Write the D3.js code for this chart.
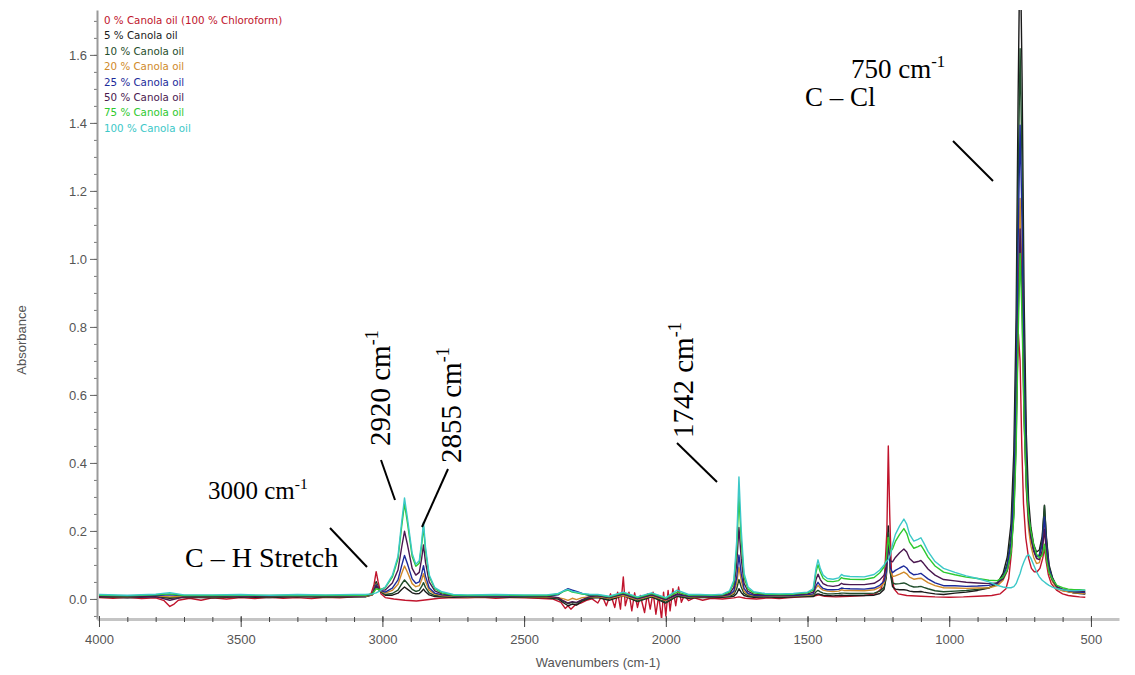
<!DOCTYPE html>
<html>
<head>
<meta charset="utf-8">
<script src="https://cdn.jsdelivr.net/npm/d3@7"></script>
<style>
  body { margin: 0; background: #fff; }
  svg { display: block; }
</style>
</head>
<body>
<svg id="chart" width="1135" height="675"></svg>
<script>
// ---- data ----
var seriesNames = ["0 % Canola oil (100 % Chloroform)", "5 % Canola oil", "10 % Canola oil", "20 % Canola oil",
    "25 % Canola oil", "50 % Canola oil", "75 % Canola oil", "100 % Canola oil"];
var seriesColors = ["#c0142c", "#1a1a1a", "#1f4d2b", "#d08a2a", "#1c2a9a", "#4a1850", "#2ec92e", "#3cc8c8"];

var yTicks = [0.0, 0.2, 0.4, 0.6, 0.8, 1.0, 1.2, 1.4, 1.6];
var xTicks = [4000, 3500, 3000, 2500, 2000, 1500, 1000, 500];

// shared wavenumber grid for the oil mixtures
var wavenumbers = [
    4000, 3900, 3800, 3750, 3700, 3600, 3500, 3400, 3300, 3200, 3100,
    3060, 3035, 3022, 3010, 2990, 2965, 2945, 2932, 2922, 2912, 2895, 2882, 2870, 2862, 2855, 2848, 2835, 2815, 2790, 2750, 2700,
    2600, 2500, 2420, 2380, 2360, 2345, 2330, 2315, 2295, 2270, 2240, 2200, 2150, 2100, 2050, 2000, 1960, 1920, 1880, 1840,
    1800, 1775, 1760, 1750, 1742, 1734, 1724, 1710, 1690, 1650, 1600, 1550, 1500,
    1480, 1470, 1463, 1455, 1445, 1430, 1410, 1390, 1380, 1372, 1350, 1300, 1265,
    1245, 1230, 1222, 1215, 1208, 1200, 1190, 1175, 1160, 1150, 1140, 1125, 1110, 1100, 1090, 1075, 1050, 1020,
    980, 940, 900, 860, 830, 810, 795, 782, 772, 764, 757, 750, 743, 736, 728, 720, 712, 702, 692, 682, 672, 664, 657, 648, 636, 620, 600, 580, 560, 540, 520
];

var oil5 = [
    .006, .003, .007, .002, .005, .003, .006, .004, .007, .005, .006,
    .006, .012, .051, .024, .011, .011, .017, .028, .035, .029, .018, .015, .016, .022, .029, .021, .012, .007, .006, .005, .006,
    .006, .005, .004, .0, -.012, -.02, -.015, -.018, -.006, .002, .004, -.004, .01, -.008, .006, -.012, .008, .002, .005, .004,
    .005, .006, .008, .016, .030, .019, .010, .007, .005, .006, .004, .006, .007,
    .007, .013, .015, .013, .011, .010, .009, .010, .011, .010, .010, .010, .011,
    .016, .028, .065, .215, .077, .036, .029, .027, .027, .026, .023, .021, .021, .022, .020, .018, .015, .013,
    .017, .020, .025, .032, .047, .075, .124, .221, .436, .827, 1.472, 1.961, 1.534, .892, .484, .290, .211, .160, .138, .144, .184, .276, .181, .101, .064, .036, .026, .022, .018, .016, .014
];
var oil10 = [
    .007, .005, .008, .004, .007, .005, .008, .006, .008, .006, .007,
    .007, .013, .047, .024, .013, .016, .026, .044, .056, .046, .028, .022, .025, .036, .048, .034, .018, .010, .008, .007, .006,
    .007, .006, .005, .002, -.008, -.014, -.01, -.012, -.004, .003, .006, .0, .012, -.006, .008, -.01, .01, .004, .006, .006,
    .007, .008, .013, .030, .057, .035, .016, .010, .008, .008, .006, .008, .009,
    .010, .021, .025, .021, .017, .015, .015, .016, .017, .017, .016, .016, .017,
    .023, .034, .067, .195, .079, .047, .044, .045, .047, .044, .039, .035, .036, .037, .034, .030, .024, .021,
    .023, .025, .028, .033, .044, .067, .106, .186, .363, .685, 1.215, 1.618, 1.270, .744, .411, .252, .186, .143, .123, .130, .174, .274, .175, .095, .060, .034, .025, .022, .018, .017, .016
];
var oil20 = [
    .008, .006, .009, .006, .008, .007, .008, .007, .009, .007, .008,
    .008, .013, .044, .025, .017, .025, .043, .075, .097, .079, .045, .036, .039, .055, .074, .051, .026, .014, .010, .008, .007,
    .008, .007, .006, .004, .0, -.004, .002, -.002, .004, .006, .007, .002, .01, -.002, .009, -.004, .012, .006, .007, .007,
    .008, .011, .018, .046, .093, .055, .023, .013, .010, .009, .008, .009, .011,
    .013, .032, .040, .032, .026, .023, .022, .023, .027, .025, .025, .024, .027,
    .034, .046, .074, .180, .087, .066, .068, .073, .079, .074, .064, .058, .060, .061, .056, .048, .039, .033,
    .032, .031, .032, .033, .039, .055, .083, .141, .268, .501, .885, 1.178, .931, .556, .320, .206, .157, .122, .104, .107, .140, .217, .140, .078, .051, .030, .024, .021, .018, .017, .016
];
var oil25 = [
    .009, .008, .01, .012, .009, .008, .01, .008, .01, .009, .009,
    .009, .014, .042, .026, .020, .032, .056, .098, .128, .104, .059, .046, .050, .072, .098, .067, .033, .017, .012, .009, .008,
    .009, .008, .008, .012, .024, .03, .026, .022, .016, .01, .009, .004, .014, .0, .012, -.002, .013, .008, .009, .008,
    .009, .013, .023, .063, .129, .075, .031, .016, .011, .010, .009, .010, .013,
    .015, .039, .049, .039, .031, .027, .027, .028, .032, .031, .030, .029, .032,
    .040, .052, .078, .169, .091, .077, .084, .091, .097, .091, .079, .071, .073, .075, .069, .059, .047, .039,
    .039, .037, .038, .040, .047, .065, .098, .166, .317, .593, 1.047, 1.393, 1.102, .659, .380, .246, .187, .145, .124, .126, .160, .241, .158, .090, .059, .036, .028, .024, .021, .020, .019
];
var oil50 = [
    .008, .006, .007, -.004, .006, .007, .009, .007, .009, .008, .009,
    .010, .015, .038, .027, .026, .047, .085, .152, .199, .161, .090, .070, .078, .116, .159, .108, .050, .024, .015, .010, .009,
    .01, .009, .008, .004, -.006, -.012, -.008, -.01, -.002, .006, .01, .004, .016, .002, .013, -.002, .015, .009, .01, .009,
    .010, .016, .034, .100, .210, .120, .046, .022, .014, .012, .011, .012, .015,
    .020, .057, .073, .057, .045, .039, .037, .040, .046, .043, .042, .042, .046,
    .056, .070, .095, .173, .112, .109, .122, .136, .147, .138, .119, .107, .110, .113, .104, .088, .070, .057,
    .053, .049, .047, .045, .047, .059, .084, .136, .252, .466, .819, 1.088, .871, .538, .328, .228, .180, .141, .119, .116, .141, .204, .136, .081, .055, .035, .029, .025, .022, .022, .022
];
var oil75 = [
    .011, .009, .012, .015, .01, .01, .011, .01, .011, .01, .011,
    .011, .015, .030, .027, .033, .064, .118, .213, .280, .226, .125, .096, .105, .154, .212, .143, .066, .030, .018, .011, .010,
    .011, .01, .01, .014, .022, .026, .02, .018, .014, .012, .012, .006, .018, .004, .016, .002, .02, .011, .012, .011,
    .012, .021, .047, .143, .302, .172, .064, .029, .018, .014, .013, .014, .018,
    .026, .079, .101, .079, .061, .052, .051, .054, .063, .060, .058, .057, .063,
    .077, .094, .117, .181, .138, .147, .169, .190, .207, .193, .167, .149, .154, .158, .145, .123, .097, .079,
    .071, .064, .060, .055, .054, .064, .086, .133, .240, .438, .765, 1.016, .824, .524, .338, .247, .200, .159, .132, .121, .128, .161, .117, .079, .058, .040, .033, .029, .027, .027, .026
];
var oil100 = [
    .013, .011, .014, .018, .012, .012, .013, .011, .013, .012, .013,
    .013, .015, .018, .023, .035, .069, .126, .226, .297, .240, .134, .102, .112, .164, .225, .153, .071, .033, .021, .013, .012,
    .013, .012, .012, .016, .024, .028, .022, .02, .016, .014, .013, .008, .02, .006, .018, .004, .026, .013, .013, .012,
    .014, .024, .055, .169, .359, .204, .076, .035, .021, .016, .015, .016, .020,
    .030, .090, .115, .090, .070, .060, .058, .062, .072, .068, .066, .065, .072,
    .085, .100, .110, .115, .130, .160, .190, .215, .235, .220, .190, .170, .175, .180, .165, .140, .110, .090,
    .078, .068, .060, .050, .040, .035, .033, .033, .036, .045, .060, .075, .095, .110, .125, .130, .120, .100, .080, .065, .055, .050, .045, .040, .035, .030, .027, .025, .024, .025, .026
];

// pure chloroform has its own (denser, noisier) sampling
var chloroformWn = [
    4000, 3950, 3900, 3850, 3800, 3770, 3750, 3735, 3720, 3680, 3640, 3600, 3550, 3500, 3450, 3400, 3350, 3300, 3250, 3200, 3150, 3100,
    3060, 3040, 3030, 3022, 3015, 3005, 2990, 2960, 2920, 2880, 2850, 2800, 2750, 2700, 2650, 2600, 2550, 2500, 2450, 2400,
    2370, 2355, 2345, 2335, 2320, 2300, 2280, 2260, 2240, 2225, 2210, 2195, 2180, 2170, 2160, 2150, 2143, 2130, 2120, 2110,
    2100, 2090, 2075, 2065, 2055, 2045, 2035, 2025, 2015, 2008, 2000, 1992, 1985, 1975, 1965, 1955, 1945, 1935, 1920, 1900,
    1870, 1840, 1800, 1760, 1742, 1720, 1680, 1640, 1600, 1560, 1520, 1480, 1460, 1440, 1400, 1350, 1300, 1260,
    1240, 1228, 1220, 1215, 1210, 1204, 1195, 1180, 1150, 1100, 1050, 1000, 950, 900, 850, 820,
    800, 790, 780, 770, 762, 756, 750, 744, 738, 730, 720, 710, 700, 690, 680, 670, 664, 658, 650, 640, 620, 600, 580, 560, 540, 520
];
var chloroform = [
    .004, .002, .005, .001, .003, -.005, -.022, -.015, -.004, .002, -.004, .003, .0, .004, .001, .005, .002, .004, .001, .005, .003, .006,
    .008, .015, .04, .08, .05, .015, .004, .0, -.004, -.006, -.003, .002, .004, .003, .005, .002, .004, .003, .002, .0,
    -.01, -.028, -.02, -.03, -.018, -.012, -.004, .0, -.012, .01, -.02, .015, -.025, .02, -.03, .065, -.02, .02, -.035, .018,
    -.025, .01, -.04, .015, -.03, .02, -.045, .01, -.06, .02, -.05, .025, -.035, .03, -.02, .035, -.01, .01, -.005, .003,
    -.004, .002, .0, .003, .006, .002, .0, .003, .001, .004, .006, .008, .012, .008, .006, .008, .01, .015,
    .03, .07, .2, .45, .25, .08, .03, .015, .01, .008, .006, .005, .006, .008, .01, .015,
    .03, .06, .14, .35, .6, .78, .7, .45, .28, .18, .12, .09, .08, .08, .09, .12, .15, .11, .07, .045, .025, .015, .01, .008, .006, .005
];

var oilSeries = [oil5, oil10, oil20, oil25, oil50, oil75, oil100];

// ---- chart ----
var svg = d3.select("svg#chart");

var x = d3.scaleLinear().domain([4007, 401]).range([97, 1119]);
var y = d3.scaleLinear().domain([-0.059, 1.732]).range([619, 10]);

svg.append("defs").append("clipPath").attr("id", "plot-clip")
    .append("rect")
    .attr("x", x.range()[0]).attr("y", y.range()[1])
    .attr("width", x.range()[1] - x.range()[0])
    .attr("height", y.range()[0] - y.range()[1]);

var series = [];
series.push(chloroformWn.map(function (w, i) { return [w, chloroform[i]]; }));
oilSeries.forEach(function (vals) {
    series.push(wavenumbers.map(function (w, i) { return [w, vals[i]]; }));
});

var line = d3.line()
    .x(function (d) { return x(d[0]); })
    .y(function (d) { return y(d[1]); });

var plot = svg.append("g").attr("clip-path", "url(#plot-clip)");
plot.selectAll("path.spectrum")
    .data(series)
    .enter().append("path")
    .attr("class", "spectrum")
    .attr("fill", "none")
    .attr("stroke", function (d, i) { return seriesColors[i]; })
    .attr("stroke-width", 1.4)
    .attr("stroke-linejoin", "round")
    .attr("d", line);

// y axis with minor ticks
var yMinor = d3.range(-0.05, 1.72, 0.05);
svg.append("g")
    .attr("transform", "translate(" + x.range()[0] + ",0)")
    .call(d3.axisLeft(y).tickValues(yMinor).tickSize(3).tickFormat("").tickSizeOuter(0))
    .call(function (g) { g.select(".domain").remove(); })
    .selectAll("line").attr("stroke", "#777");

var yGroup = svg.append("g")
    .attr("transform", "translate(" + x.range()[0] + ",0)")
    .call(d3.axisLeft(y).tickValues(yTicks).tickFormat(d3.format(".1f")).tickSize(7).tickSizeOuter(0).tickPadding(3));
yGroup.select(".domain").attr("stroke", "#9a9a9a").attr("stroke-width", 2);
yGroup.selectAll(".tick line").attr("stroke", "#666");
yGroup.selectAll("text")
    .style("font-family", "'Liberation Sans', Arial, sans-serif")
    .style("font-size", "13px")
    .attr("fill", "#555");

// x axis
var xGroup = svg.append("g")
    .attr("transform", "translate(0," + y.range()[0] + ")");
xGroup.call(d3.axisBottom(x).tickValues(d3.range(4000, 400, -100)).tickSize(3).tickFormat("").tickSizeOuter(0));
xGroup.select(".domain").attr("stroke", "#c4c4c4").attr("stroke-width", 3);
xGroup.selectAll(".tick line").attr("stroke", "#444").attr("y1", -2);

var xMajor = svg.append("g")
    .attr("transform", "translate(0," + y.range()[0] + ")")
    .call(d3.axisBottom(x).tickValues(xTicks).tickFormat(d3.format("d")).tickSize(8).tickSizeOuter(0).tickPadding(8));
xMajor.select(".domain").remove();
xMajor.selectAll(".tick line").attr("stroke", "#444").attr("y1", -3);
xMajor.selectAll("text")
    .style("font-family", "'Liberation Sans', Arial, sans-serif")
    .style("font-size", "13px")
    .attr("fill", "#555");

// axis titles
svg.append("text")
    .attr("transform", "translate(26,340) rotate(-90)")
    .style("text-anchor", "middle")
    .style("font-family", "'Liberation Sans', Arial, sans-serif")
    .style("font-size", "13px")
    .attr("fill", "#555")
    .text("Absorbance");

svg.append("text")
    .attr("x", 598).attr("y", 667)
    .style("text-anchor", "middle")
    .style("font-family", "'Liberation Sans', Arial, sans-serif")
    .style("font-size", "13px")
    .attr("fill", "#555")
    .text("Wavenumbers (cm-1)");

// legend
svg.selectAll("text.legend")
    .data(seriesNames)
    .enter().append("text")
    .attr("class", "legend")
    .attr("x", 104)
    .attr("y", function (d, i) { return 24 + i * 15.4; })
    .style("font-family", "'DejaVu Sans', Verdana, sans-serif")
    .style("font-size", "10.3px")
    .attr("fill", function (d, i) { return seriesColors[i]; })
    .text(function (d) { return d; });

// peak annotations
var notes = svg.append("g")
    .style("font-family", "'Liberation Serif', 'Times New Roman', serif")
    .attr("fill", "#000");

function waveLabel(g, transform, size, num) {
    var t = g.append("text").attr("transform", transform).style("font-size", size + "px");
    t.append("tspan").text(num + " cm");
    t.append("tspan").attr("dy", -size * 0.4).style("font-size", (size * 0.62) + "px").text("-1");
    return t;
}

waveLabel(notes, "translate(208,499)", 25, "3000");
notes.append("text").attr("x", 185).attr("y", 567).style("font-size", "28px").text("C \u2013 H Stretch");
waveLabel(notes, "translate(390,446) rotate(-90)", 29, "2920");
waveLabel(notes, "translate(461,463) rotate(-90)", 29, "2855");
waveLabel(notes, "translate(693,438) rotate(-90)", 29, "1742");
waveLabel(notes, "translate(851,78)", 27, "750");
notes.append("text").attr("x", 805).attr("y", 106).style("font-size", "27px").text("C \u2013 Cl");

var pointers = [
    [330, 528, 367, 567],
    [381, 460, 395, 500],
    [448, 469, 422, 527],
    [677, 443, 717, 482],
    [953, 141, 993, 181]
];
svg.selectAll("line.pointer")
    .data(pointers)
    .enter().append("line")
    .attr("class", "pointer")
    .attr("x1", function (d) { return d[0]; })
    .attr("y1", function (d) { return d[1]; })
    .attr("x2", function (d) { return d[2]; })
    .attr("y2", function (d) { return d[3]; })
    .attr("stroke", "#000")
    .attr("stroke-width", 2);
</script>
</body>
</html>
